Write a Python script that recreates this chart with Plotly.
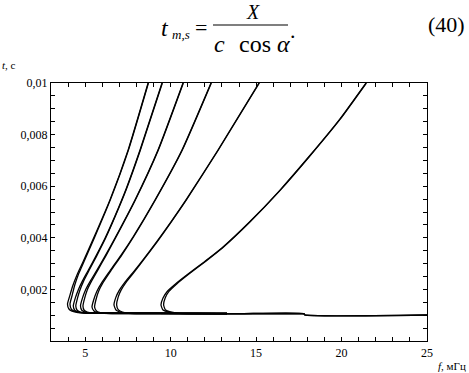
import plotly.graph_objects as go

# ---- data (f in MHz, t in ms; each curve drawn as a pair of close lines A/B) ----
c1_t = [1.065, 1.075, 1.085, 1.09, 1.105, 1.16, 1.24, 1.43, 1.78, 2.17, 2.56, 3.06, 4.03, 5.47, 7.40, 10.0]
c1_fa = [13.3, 9.0, 6.5, 5.28, 4.58, 4.23, 4.05, 3.965, 4.11, 4.29, 4.52, 4.87, 5.52, 6.45, 7.51, 8.68]
c1_fb = [13.3, 9.0, 6.55, 5.38, 4.70, 4.36, 4.19, 4.11, 4.24, 4.39, 4.59, 4.92, 5.56, 6.47, 7.53, 8.70]

c2_t = [1.065, 1.072, 1.073, 1.074, 1.085, 1.124, 1.182, 1.357, 1.66, 1.99, 2.34, 2.74, 3.28, 3.98, 4.85, 5.9, 7.4, 10.0]
c2_fa = [13.3, 9.0, 6.5, 5.57, 4.93, 4.58, 4.40, 4.305, 4.42, 4.60, 4.85, 5.18, 5.62, 6.16, 6.75, 7.4, 8.21, 9.495]
c2_fb = [13.3, 9.0, 6.55, 5.66, 5.05, 4.71, 4.54, 4.45, 4.55, 4.70, 4.92, 5.23, 5.66, 6.19, 6.77, 7.42, 8.23, 9.515]

c3_t = [1.065, 1.07, 1.072, 1.074, 1.085, 1.124, 1.182, 1.357, 1.66, 1.98, 2.32, 2.74, 3.30, 3.99, 5.465, 7.403, 10.0]
c3_fa = [13.3, 9.5, 7.0, 5.984, 5.34, 4.99, 4.814, 4.726, 4.84, 5.02, 5.30, 5.68, 6.17, 6.745, 7.915, 9.261, 10.724]
c3_fb = [13.3, 9.5, 7.05, 6.07, 5.46, 5.12, 4.95, 4.87, 4.97, 5.12, 5.37, 5.73, 6.21, 6.775, 7.935, 9.281, 10.744]

c4_t = [1.062, 1.064, 1.065, 1.066, 1.074, 1.105, 1.163, 1.318, 1.60, 1.92, 2.27, 2.72, 3.33, 4.031, 5.465, 7.403, 10.0]
c4_fa = [17.8, 12.0, 8.5, 6.745, 6.10, 5.692, 5.516, 5.399, 5.50, 5.68, 5.98, 6.45, 7.1, 7.798, 9.085, 10.665, 12.362]
c4_fb = [17.8, 12.0, 8.55, 6.83, 6.22, 5.83, 5.66, 5.55, 5.63, 5.78, 6.05, 6.50, 7.14, 7.828, 9.105, 10.685, 12.382]

c5_t = [1.062, 1.064, 1.065, 1.066, 1.074, 1.124, 1.202, 1.395, 1.70, 1.97, 2.30, 2.70, 3.20, 3.86, 4.60, 5.47, 7.403, 10.0]
c5_fa = [17.8, 12.0, 9.5, 8.208, 7.506, 7.037, 6.803, 6.686, 6.80, 7.0, 7.35, 7.85, 8.45, 9.2, 10.0, 10.9, 12.772, 15.171]
c5_fb = [17.8, 12.0, 9.55, 8.30, 7.63, 7.18, 6.95, 6.84, 6.93, 7.10, 7.42, 7.90, 8.48, 9.23, 10.02, 10.92, 12.792, 15.191]

c6_t = [1.008, 1.01, 1.062, 1.064, 1.066, 1.074, 1.124, 1.202, 1.395, 1.667, 1.92, 2.22, 2.585, 3.085, 3.605, 4.6, 5.85, 7.15, 8.6, 10.0]
c6_fa = [25.0, 17.85, 17.8, 14.0, 11.426, 10.431, 9.846, 9.554, 9.437, 9.554, 9.80, 10.3, 11.0, 12.0, 13.0, 14.6, 16.4, 18.1, 19.9, 21.432]
c6_fb = [25.0, 17.85, 17.8, 14.0, 11.52, 10.56, 9.99, 9.70, 9.59, 9.68, 9.90, 10.37, 11.05, 12.04, 13.03, 14.62, 16.42, 18.12, 19.92, 21.452]

curves = [(c1_fa, c1_fb, c1_t), (c2_fa, c2_fb, c2_t), (c3_fa, c3_fb, c3_t),
          (c4_fa, c4_fb, c4_t), (c5_fa, c5_fb, c5_t), (c6_fa, c6_fb, c6_t)]

x_tickvals = [5, 10, 15, 20, 25]
y_tickvals = [0.002, 0.004, 0.006, 0.008, 0.01]
y_ticktext = ["0,002", "0,004", "0,006", "0,008", "0,01"]

W, H = 469, 373
L, R, T, B = 51, 427, 83, 341

fig = go.Figure()
for fa, fb, t in curves:
    ts = [v / 1000.0 for v in t]
    for f in (fa, fb):
        fig.add_trace(go.Scatter(x=f, y=ts, mode="lines",
                                 line=dict(color="black", width=1.3, shape="spline", smoothing=0.5),
                                 showlegend=False, hoverinfo="skip"))

def px(x):
    return (x - L) / (R - L)

def py(y):
    return (B - y) / (B - T)

serif = "Liberation Serif"
ann = []
def A(text, x, y, size, xanchor="center", yanchor="middle"):
    ann.append(dict(text=text, x=px(x), y=py(y), xref="paper", yref="paper", showarrow=False,
                    xanchor=xanchor, yanchor=yanchor, font=dict(family=serif, size=size, color="black")))

# formula
A("<i>t</i>", 165, 28, 24)
A("<i>m,s</i>", 181, 35, 13)
A("=", 201, 27, 22)
A("<i>X</i>", 253, 12, 20)
A("<i>c</i>", 219, 44, 24)
A("cos <i>α</i>", 264, 44, 24)
A(".", 293, 30, 22)
A("(40)", 467, 24, 22, xanchor="right")
# axis titles
A("<i>t</i>, c", 0, 65, 11, xanchor="left")
A("<i>f</i>, мГц", 468, 366, 11, xanchor="right")

fig.update_layout(
    width=W, height=H,
    margin=dict(l=L, r=W - R, t=T, b=H - B),
    paper_bgcolor="white", plot_bgcolor="white",
    showlegend=False,
    annotations=ann,
    shapes=[dict(type="line", xref="paper", yref="paper", x0=px(213), x1=px(288), y0=py(25), y1=py(25),
                 line=dict(color="black", width=1.2))],
    font=dict(family=serif, size=12, color="black"),
)
fig.update_xaxes(range=[3, 25], tickmode="array", tickvals=x_tickvals, ticktext=[str(v) for v in x_tickvals],
                 ticks="inside", ticklen=4, tickwidth=1, tickcolor="black",
                 minor=dict(dtick=1, tick0=0, ticks="inside", ticklen=4, tickcolor="black", tickwidth=1),
                 showline=True, linecolor="black", linewidth=1.2, mirror="ticks",
                 showgrid=False, zeroline=False, tickfont=dict(family=serif, size=12))
fig.update_yaxes(range=[0, 0.01], tickmode="array", tickvals=y_tickvals, ticktext=y_ticktext,
                 ticks="inside", ticklen=4, tickwidth=1, tickcolor="black",
                 minor=dict(dtick=0.0005, tick0=0, ticks="inside", ticklen=4, tickcolor="black", tickwidth=1),
                 showline=True, linecolor="black", linewidth=1.2, mirror="ticks",
                 showgrid=False, zeroline=False, tickfont=dict(family=serif, size=12))

fig.write_html("out.html", config={"displayModeBar": False},
               post_script="document.body.style.margin='0';")
